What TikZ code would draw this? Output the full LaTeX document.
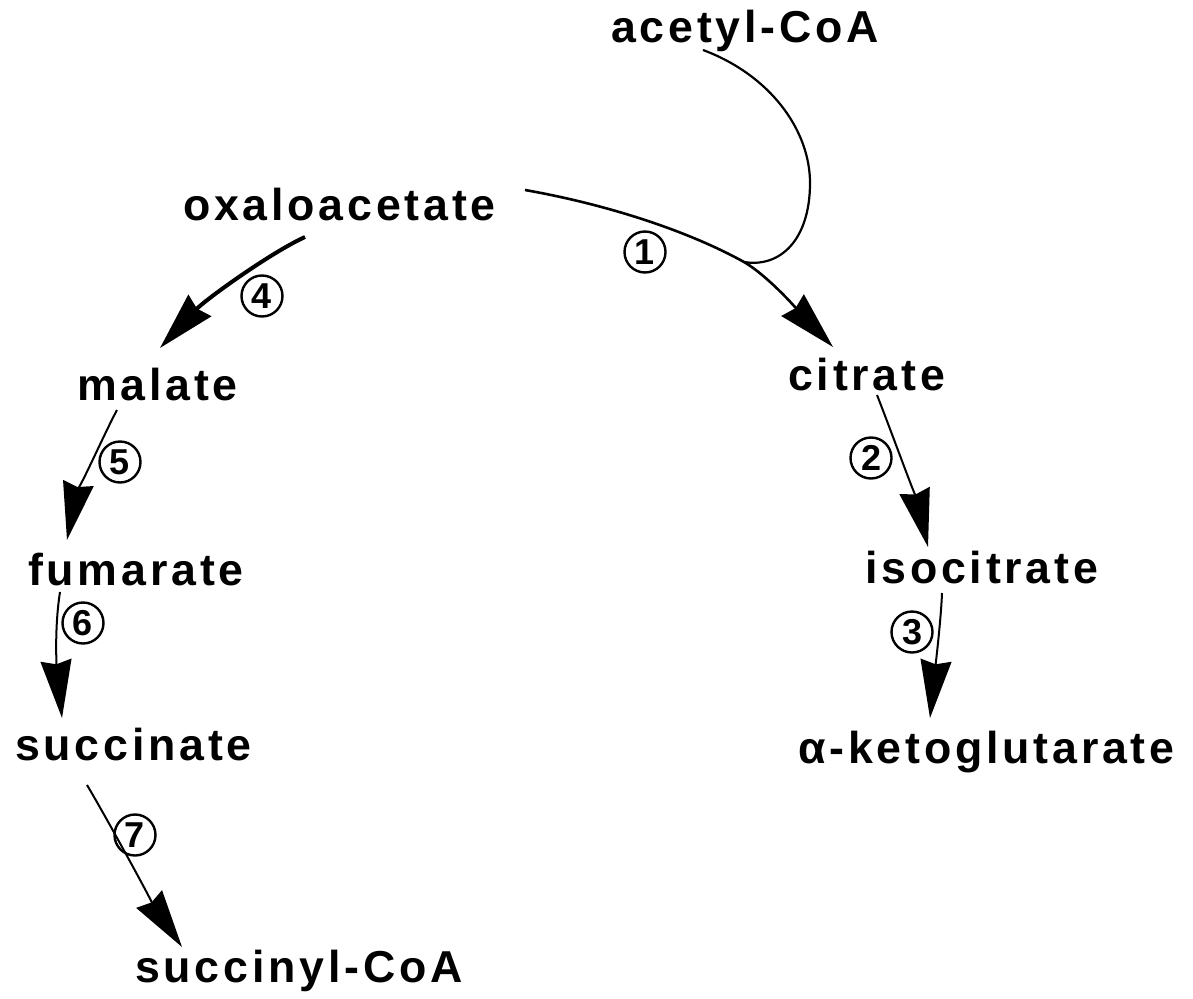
\documentclass[tikz,border=0pt]{standalone}
\usepackage{fontspec}
\usetikzlibrary{arrows.meta,calc}
\newfontfamily\labfont{Liberation Sans}[LetterSpace=8.5]
\newfontfamily\numfont{Liberation Sans}
\tikzset{
  metab/.style={anchor=base west, inner sep=0pt, font=\labfont\bfseries\fontsize{44.7}{50}\selectfont},
  stepnum/.style={circle, draw, line width=2.4pt, minimum size=41pt, inner sep=0pt, font=\numfont\bfseries\fontsize{36}{36}\selectfont},
  bighead/.style={-{Stealth[length=58pt, width=31pt, inset=4pt]}},
  thinarrow/.style={bighead, line width=2pt},
  thickarrow/.style={bighead, line width=4pt},
}
\begin{document}
\begin{tikzpicture}[x=1pt, y=-1pt, line join=round]
\useasboundingbox (0,0) rectangle (1193,998);
% metabolites
\node[metab] (acetyl) at (611,43) {acetyl-CoA};
\node[metab] (oxalo) at (183,220) {oxaloacetate};
\node[metab] (malate) at (77,400) {malate};
\node[metab] (fumarate) at (28,585) {fumarate};
\node[metab] (succinate) at (15,760) {succinate};
\node[metab] (succinyl) at (135,982) {succinyl-CoA};
\node[metab] (citrate) at (788,390) {citrate};
\node[metab] (isocitrate) at (865,583) {isocitrate};
\node[metab] (akg) at (798,763) {α-ketoglutarate};
% step numbers
\node[stepnum] (s1) at (645,252) {1};
\node[stepnum] (s2) at (871,458) {2};
\node[stepnum] (s3) at (912,632) {3};
\node[stepnum] (s4) at (262,296) {4};
\node[stepnum] (s5) at (120,462) {5};
\node[stepnum] (s6) at (83,623) {6};
\node[stepnum] (s7) at (135,835) {7};
% join point of acetyl-CoA on reaction 1
\coordinate (join) at (744,262);
% reaction 1
\draw[thinarrow, line width=2.6pt] ($(oxalo.base west)+(342,-30)$)
  .. controls (610,205) and (690,232) .. (join)
  .. controls (770,277) and (805,318) .. ($(citrate.base west)+(45,-43)$);
% acetyl-CoA entering
\draw[line width=2.2pt] ($(acetyl.base west)+(92,7)$)
  .. controls (770,75) and (810,130) .. (810,183)
  .. controls (810,240) and (780,268) .. (join);
% reaction 2
\draw[thinarrow] ($(citrate.base west)+(89,5)$)
  .. controls (890,428) and (918,505) .. ($(isocitrate.base west)+(63,-36)$);
% reaction 3
\draw[thinarrow] ($(isocitrate.base west)+(77,10)$)
  .. controls (941,620) and (935,670) .. ($(akg.base west)+(132,-45)$);
% reaction 4
\draw[thickarrow] ($(oxalo.base west)+(122,17)$)
  .. controls (270,253) and (205,300) .. ($(malate.base west)+(83,-52)$);
% reaction 5
\draw[thinarrow] ($(malate.base west)+(40,10)$)
  .. controls (105,432) and (75,500) .. ($(fumarate.base west)+(39,-45)$);
% reaction 6
\draw[thinarrow] ($(fumarate.base west)+(32,7)$)
  .. controls (54,630) and (57,670) .. ($(succinate.base west)+(47,-42)$);
% reaction 7
\draw[thinarrow] ($(succinate.base west)+(72,25)$)
  .. controls (105,815) and (158,912) .. ($(succinyl.base west)+(47,-35)$);
\end{tikzpicture}
\end{document}
